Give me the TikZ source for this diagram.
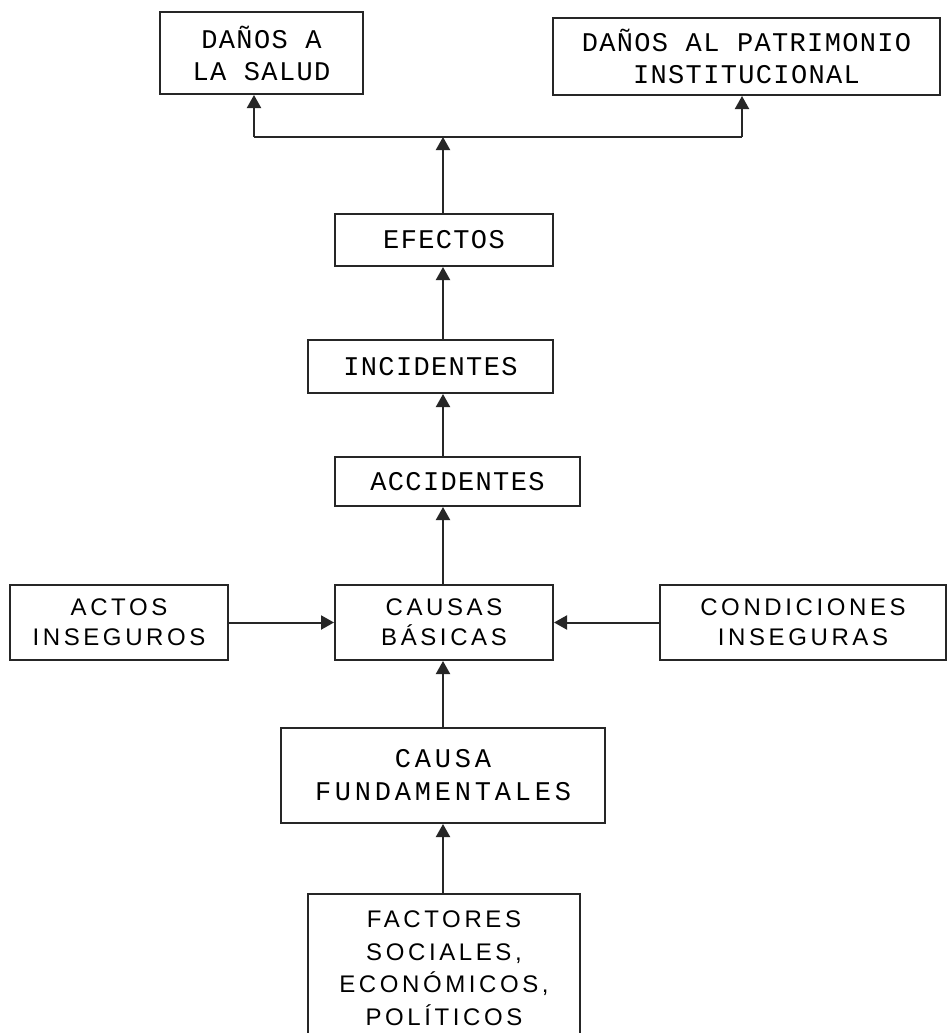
\documentclass[tikz,border=0pt]{standalone}
\usepackage{fontspec}
\usetikzlibrary{arrows.meta}
\newfontfamily\slabfont[LetterSpace=5]{Liberation Mono}
\newfontfamily\slabwide[LetterSpace=14]{Liberation Mono}
\newfontfamily\lsans[LetterSpace=15]{Liberation Sans}
\begin{document}
\begin{tikzpicture}[x=1pt,y=-1pt,
  box/.style={draw=black!85, line width=2pt, rectangle, align=center, inner sep=0pt},
  sl/.style={font=\slabfont\fontsize{27}{32}\selectfont},
  slw/.style={font=\slabwide\fontsize{27}{33}\selectfont},
  ss/.style={font=\lsans\fontsize{24}{30}\selectfont},
  ssf/.style={font=\lsans\fontsize{24}{32.5}\selectfont},
  conn/.style={draw=black!85, line width=2pt},
  arr/.style={conn, -{Triangle[width=14pt,length=13pt]}}
]
\useasboundingbox (0,0) rectangle (946,1033);
\fill[white] (0,0) rectangle (946,1033);

\node[box, sl, minimum width=203pt, minimum height=82pt] (salud) at (261.5,53) {DAÑOS A\\LA SALUD};
\node[box, sl, minimum width=387pt, minimum height=77pt] (patr) at (746.5,56.5) {DAÑOS AL PATRIMONIO\\INSTITUCIONAL};
\node[box, sl, minimum width=218pt, minimum height=52pt] (efectos) at (444,240) {EFECTOS};
\node[box, sl, minimum width=245pt, minimum height=53pt] (incid) at (430.5,366.5) {INCIDENTES};
\node[box, sl, minimum width=245pt, minimum height=49pt] (accid) at (457.5,481.5) {ACCIDENTES};
\node[box, ss, minimum width=218pt, minimum height=75pt] (actos) at (119,622.5) {ACTOS\\INSEGUROS};
\node[box, ss, minimum width=218pt, minimum height=75pt] (causas) at (444,622.5) {CAUSAS\\BÁSICAS};
\node[box, ss, minimum width=286pt, minimum height=75pt] (cond) at (803,622.5) {CONDICIONES\\INSEGURAS};
\node[box, slw, minimum width=324pt, minimum height=95pt] (fund) at (443,775.5) {CAUSA\\FUNDAMENTALES};
\node[box, ssf, minimum width=272pt, minimum height=148pt] (fact) at (444,968) {FACTORES\\SOCIALES,\\ECONÓMICOS,\\POLÍTICOS};

\coordinate (split) at (443,137);
\coordinate (la) at (254,137);
\coordinate (ra) at (742,137);

\draw[arr] (split |- efectos.north) -- (split);
\draw[conn] (la) -- (ra);
\draw[arr] (la) -- (la |- salud.south);
\draw[arr] (ra) -- (ra |- patr.south);
\draw[arr] (split |- incid.north) -- (split |- efectos.south);
\draw[arr] (split |- accid.north) -- (split |- incid.south);
\draw[arr] (split |- causas.north) -- (split |- accid.south);
\draw[arr] (split |- fund.north) -- (split |- causas.south);
\draw[arr] (split |- fact.north) -- (split |- fund.south);
\draw[arr] (actos.east) -- (causas.west);
\draw[arr] (cond.west) -- (causas.east);
\end{tikzpicture}
\end{document}
